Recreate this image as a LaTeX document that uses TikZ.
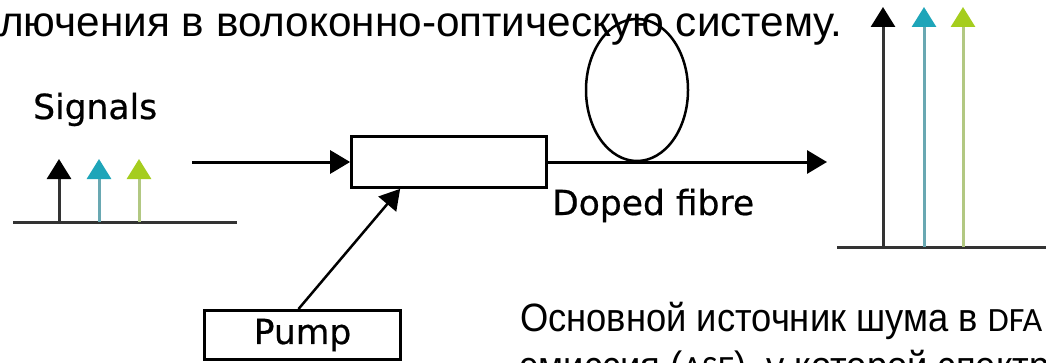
\documentclass[tikz,border=0pt]{standalone}
\usepackage{fontspec}
\setmainfont[FakeBold=0.6]{DejaVu Sans}
\newfontfamily\rufont{Liberation Sans}
\newfontfamily\rufontnarrow[FakeStretch=0.92]{Liberation Sans}
\newfontfamily\abbrfont{Carlito}
\usetikzlibrary{arrows.meta}
\definecolor{axisgray}{RGB}{51,51,51}
\definecolor{tealhead}{RGB}{30,165,185}
\definecolor{tealline}{RGB}{105,168,178}
\definecolor{limehead}{RGB}{165,205,30}
\definecolor{limeline}{RGB}{178,200,130}

\begin{document}
\begin{tikzpicture}[x=1pt, y=1pt, >={Triangle[length=20pt,width=23pt]},
    box/.style={draw, line width=3pt, inner sep=0pt},
    lbl/.style={inner sep=0pt, anchor=base west, font=\fontsize{34.5}{40}\selectfont},
    peak/.style 2 args={draw=#1, line width=3pt, -{Triangle[length=20pt,width=24pt,color=#2]}}]
    \useasboundingbox (0,0) rectangle (1046,362);
    \clip (0,0) rectangle (1046,362);
    % page text around the figure
    \node[inner sep=0pt, anchor=base west, font=\rufont\fontsize{42.3}{48}\selectfont] (toptext) at (-1,325)
        {лючения в волоконно-оптическую систему.};
    \node[inner sep=0pt, anchor=base west, font=\rufontnarrow\fontsize{39.5}{45}\selectfont] (noise) at (520,31)
        {Основной источник шума в {\abbrfont\fontsize{34}{40}\selectfont DFA}};
    \node[inner sep=0pt, anchor=base west, font=\rufontnarrow\fontsize{39.5}{45}\selectfont] (noise2) at (520,-17)
        {эмиссия ({\abbrfont\fontsize{34}{40}\selectfont ASE}), у которой спектр};
    % input spectrum
    \node[lbl] (signals) at (33,243) {Signals};
    \draw[axisgray, line width=3pt] (13,140)--(237,140);
    \draw[peak={axisgray}{black}] (59,140)--(59,203);
    \draw[peak={tealline}{tealhead}] (99,140)--(99,203);
    \draw[peak={limeline}{limehead}] (139,140)--(139,203);
    % amplifier
    \coordinate (in) at (192,200);
    \node[box, minimum width=194.7pt, minimum height=50.7pt] (amp) at (449,200) {};
    \node[box, minimum width=196pt, minimum height=49pt, font=\fontsize{34.5}{40}\selectfont] (pump) at (302.5,27) {Pump};
    \coordinate (out) at (827,200);
    \draw[->, line width=3pt](in)--(amp.west);
    \draw[->, line width=3pt](amp.east)--(out);
    \draw[->, line width=2.5pt]([xshift=-4pt]pump.north)--([xshift=50pt]amp.south west);
    % fibre coil
    \draw[line width=2.5pt](637,272) ellipse[x radius=51, y radius=71];
    \node[lbl] (fibre) at (552,147) {Doped fibre};
    % amplified spectrum
    \draw[axisgray, line width=3pt] (837,115)--(1050,115);
    \draw[peak={axisgray}{black}] (883,115)--(883,355);
    \draw[peak={tealline}{tealhead}] (924,115)--(924,355);
    \draw[peak={limeline}{limehead}] (963,115)--(963,355);
\end{tikzpicture}
\end{document}
